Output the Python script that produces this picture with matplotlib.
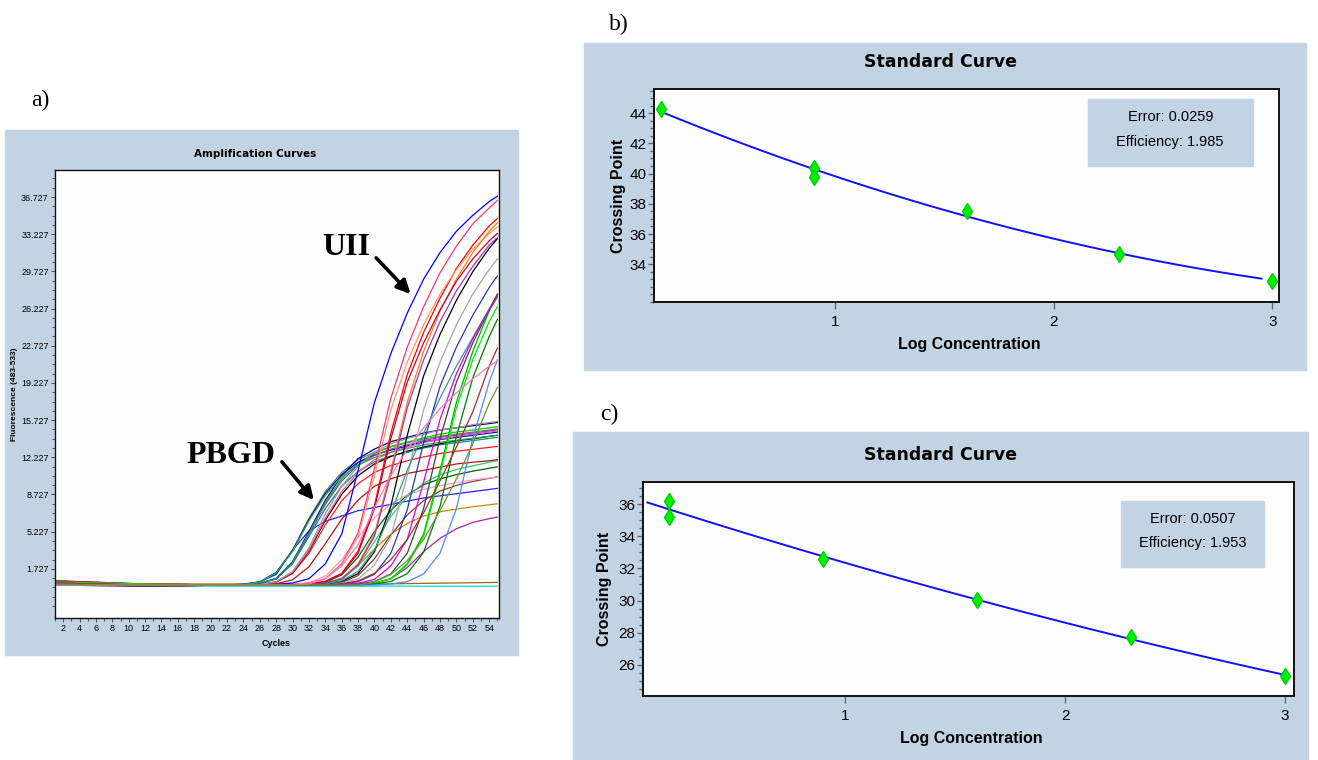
import matplotlib
matplotlib.use('Agg')

import matplotlib.pyplot as plt
from matplotlib.patches import Rectangle
import numpy as np

plt.rcParams['font.family'] = ['Liberation Sans', 'DejaVu Sans']

# ---------------- a) amplification curves ----------------
# cycles at which the fluorescence was read off the picture
CYCLES = [1, 12, 22, 24, 26, 28, 30, 32, 34, 36, 38, 40, 42, 44, 46, 48, 50, 52, 54, 55]

UII_COLORS = ['#0000ff', '#ff3377', '#ff0000', '#ff9966', '#ff8000', '#cc0033', '#9933cc',
              '#a8a8a8', '#000000', '#3333aa', '#339999', '#00b000', '#00ee00', '#007a00',
              '#404040', '#dd00dd', '#5588ff', '#993333', '#ff77bb', '#669933']
UII_VALUES = [
    [0.4, 0.2, 0.2, 0.2, 0.2, 0.25, 0.4, 0.8, 2.2, 5.0, 11.0, 17.4, 22.0, 25.8, 29.0, 31.5, 33.5, 35.0, 36.3, 36.8],
    [0.3, 0.3, 0.2, 0.2, 0.2, 0.2, 0.25, 0.4, 0.8, 2.2, 5.1, 11.2, 17.8, 22.6, 26.4, 29.6, 32.1, 34.2, 35.7, 36.4],
    [0.6, 0.3, 0.2, 0.2, 0.2, 0.2, 0.2, 0.3, 0.55, 1.3, 3.4, 7.7, 14.5, 20.0, 24.0, 27.2, 30.0, 32.2, 34.0, 34.7],
    [0.2, 0.1, 0.2, 0.2, 0.2, 0.2, 0.25, 0.39, 0.77, 2.1, 4.76, 10.5, 16.7, 21.2, 24.7, 27.6, 29.9, 31.8, 33.3, 33.9],
    [0.5, 0.2, 0.2, 0.2, 0.2, 0.2, 0.2, 0.25, 0.4, 0.8, 2.2, 5.0, 11.0, 17.4, 22.2, 26.0, 29.0, 31.5, 33.5, 34.3],
    [0.3, 0.2, 0.2, 0.2, 0.2, 0.2, 0.2, 0.3, 0.53, 1.25, 3.2, 7.4, 14.0, 19.3, 23.0, 26.1, 28.8, 30.9, 32.6, 33.3],
    [0.4, 0.1, 0.2, 0.2, 0.2, 0.2, 0.2, 0.25, 0.39, 0.78, 2.1, 4.8, 10.6, 16.9, 21.4, 25.0, 27.9, 30.2, 32.2, 32.9],
    [0.3, 0.2, 0.2, 0.2, 0.2, 0.2, 0.2, 0.2, 0.25, 0.39, 0.77, 2.1, 4.76, 10.5, 16.7, 21.2, 24.7, 27.6, 29.9, 30.9],
    [0.5, 0.2, 0.2, 0.2, 0.2, 0.2, 0.2, 0.2, 0.3, 0.54, 1.28, 3.34, 7.64, 14.3, 19.9, 23.8, 27.0, 29.7, 31.9, 32.8],
    [0.2, 0.1, 0.2, 0.2, 0.2, 0.2, 0.2, 0.2, 0.2, 0.3, 0.53, 1.22, 3.2, 7.3, 13.6, 18.9, 22.6, 25.6, 28.2, 29.3],
    [0.4, 0.2, 0.2, 0.2, 0.2, 0.2, 0.2, 0.2, 0.3, 0.6, 1.5, 3.5, 7.0, 11.0, 14.5, 17.8, 20.8, 23.5, 26.2, 27.4],
    [0.3, 0.2, 0.2, 0.2, 0.2, 0.2, 0.2, 0.2, 0.2, 0.2, 0.25, 0.4, 0.8, 2.2, 5.0, 11.0, 17.4, 22.2, 26.0, 27.5],
    [0.5, 0.3, 0.2, 0.2, 0.2, 0.2, 0.2, 0.2, 0.2, 0.2, 0.25, 0.39, 0.78, 2.1, 4.8, 10.6, 16.9, 21.4, 25.0, 26.4],
    [0.2, 0.2, 0.2, 0.2, 0.2, 0.2, 0.2, 0.2, 0.2, 0.2, 0.2, 0.3, 0.54, 1.27, 3.3, 7.6, 14.2, 19.7, 23.6, 25.2],
    [0.3, 0.1, 0.2, 0.2, 0.2, 0.2, 0.2, 0.2, 0.2, 0.2, 0.3, 0.53, 1.25, 3.2, 7.4, 14.0, 19.3, 23.0, 26.1, 27.6],
    [0.4, 0.2, 0.2, 0.2, 0.2, 0.2, 0.2, 0.2, 0.2, 0.25, 0.38, 0.74, 2.0, 4.5, 9.9, 15.8, 20.1, 23.4, 26.1, 27.3],
    [0.3, 0.2, 0.2, 0.2, 0.2, 0.2, 0.2, 0.2, 0.2, 0.2, 0.2, 0.2, 0.3, 0.53, 1.25, 3.2, 7.4, 14.0, 19.3, 21.4],
    [0.4, 0.2, 0.2, 0.2, 0.2, 0.2, 0.2, 0.2, 0.2, 0.3, 0.6, 1.3, 2.6, 4.5, 7.0, 10.0, 13.2, 16.5, 20.8, 22.5],
    [0.2, 0.2, 0.2, 0.2, 0.2, 0.2, 0.2, 0.3, 0.8, 2.0, 4.0, 7.5, 10.5, 13.0, 15.0, 16.8, 18.3, 19.6, 20.8, 21.3],
    [0.3, 0.2, 0.2, 0.2, 0.2, 0.2, 0.2, 0.2, 0.2, 0.2, 0.2, 0.5, 1.2, 2.5, 4.5, 7.2, 10.2, 13.5, 17.3, 18.8],
]

PBGD_COLORS = ['#6b7b5b', '#000080', '#00cc00', '#0000ee', '#8844bb', '#009090',
               '#ff2020', '#000000', '#ff4fa0', '#bb1111', '#999999', '#22aa44']
PBGD_VALUES = [
    [0.5, 0.2, 0.2, 0.25, 0.5, 1.4, 3.5, 6.5, 9.0, 10.8, 12.0, 12.7, 13.2, 13.6, 13.95, 14.2, 14.4, 14.6, 14.8, 14.9],
    [0.3, 0.2, 0.2, 0.2, 0.36, 0.83, 2.4, 5.24, 8.18, 10.5, 12.1, 13.0, 13.7, 14.1, 14.5, 14.8, 15.0, 15.2, 15.4, 15.5],
    [0.4, 0.1, 0.2, 0.2, 0.35, 0.8, 2.35, 5.1, 7.95, 10.2, 11.7, 12.6, 13.25, 13.65, 14.05, 14.4, 14.6, 14.8, 15.0, 15.1],
    [0.6, 0.3, 0.2, 0.25, 0.49, 1.37, 3.43, 6.37, 8.82, 10.6, 11.76, 12.45, 12.9, 13.3, 13.7, 13.9, 14.1, 14.3, 14.5, 14.6],
    [0.2, 0.2, 0.2, 0.2, 0.35, 0.8, 2.3, 5.0, 7.8, 10.0, 11.5, 12.4, 13.0, 13.4, 13.8, 14.1, 14.3, 14.5, 14.7, 14.8],
    [0.3, 0.1, 0.2, 0.2, 0.34, 0.77, 2.2, 4.76, 7.4, 9.5, 10.9, 11.8, 12.36, 12.7, 13.1, 13.4, 13.6, 13.8, 14.0, 14.1],
    [0.5, 0.3, 0.2, 0.2, 0.25, 0.47, 1.28, 3.17, 5.87, 8.12, 9.74, 10.8, 11.45, 11.9, 12.26, 12.58, 12.8, 12.98, 13.16, 13.25],
    [0.3, 0.2, 0.2, 0.2, 0.25, 0.49, 1.36, 3.4, 6.3, 8.74, 10.5, 11.6, 12.3, 12.8, 13.2, 13.5, 13.78, 13.97, 14.2, 14.3],
    [0.4, 0.2, 0.2, 0.2, 0.25, 0.5, 1.4, 3.5, 6.5, 9.0, 10.8, 12.0, 12.7, 13.2, 13.6, 13.95, 14.2, 14.4, 14.6, 14.7],
    [0.2, 0.1, 0.2, 0.2, 0.2, 0.32, 0.69, 1.92, 4.1, 6.4, 8.2, 9.5, 10.2, 10.7, 11.0, 11.3, 11.6, 11.76, 11.9, 12.0],
    [0.5, 0.2, 0.2, 0.2, 0.25, 0.52, 1.47, 3.7, 6.9, 9.5, 11.4, 12.7, 13.5, 14.0, 14.4, 14.8, 15.0, 15.3, 15.5, 15.6],
    [0.3, 0.2, 0.2, 0.25, 0.49, 1.35, 3.37, 6.25, 8.65, 10.4, 11.5, 12.2, 12.68, 13.06, 13.4, 13.64, 13.83, 14.02, 14.2, 14.3],
]

OTHER_COLORS = ['#2222ff', '#cc8800', '#aa22aa', '#006600', '#8b3a3a', '#ff99cc', '#33cc66',
                '#b06000', '#00dddd']
OTHER_VALUES = [
    [0.4, 0.2, 0.2, 0.3, 0.5, 1.2, 3.5, 5.3, 6.2, 6.7, 7.2, 7.5, 7.8, 8.1, 8.4, 8.6, 8.8, 9.0, 9.2, 9.3],
    [0.3, 0.2, 0.2, 0.2, 0.2, 0.2, 0.2, 0.23, 0.37, 0.86, 2.0, 3.6, 5.0, 6.0, 6.7, 7.1, 7.35, 7.57, 7.76, 7.85],
    [0.3, 0.1, 0.2, 0.2, 0.2, 0.2, 0.2, 0.2, 0.2, 0.2, 0.23, 0.35, 0.8, 1.85, 3.35, 4.6, 5.5, 6.1, 6.45, 6.6],
    [0.4, 0.2, 0.2, 0.2, 0.2, 0.2, 0.2, 0.24, 0.44, 1.16, 2.84, 5.24, 7.24, 8.68, 9.64, 10.2, 10.6, 10.92, 11.2, 11.32],
    [0.2, 0.2, 0.2, 0.2, 0.2, 0.2, 0.2, 0.2, 0.24, 0.43, 1.1, 2.68, 4.93, 6.8, 8.15, 9.05, 9.58, 9.95, 10.25, 10.4],
    [0.5, 0.3, 0.2, 0.2, 0.2, 0.2, 0.24, 0.42, 1.06, 2.58, 4.74, 6.54, 7.83, 8.7, 9.2, 9.56, 9.85, 10.1, 10.28, 10.35],
    [0.3, 0.2, 0.2, 0.2, 0.2, 0.2, 0.2, 0.2, 0.33, 0.71, 1.99, 4.28, 6.66, 8.53, 9.8, 10.57, 11.08, 11.42, 11.76, 11.89],
    [0.4, 0.3, 0.3, 0.3, 0.3, 0.3, 0.3, 0.3, 0.3, 0.3, 0.3, 0.3, 0.32, 0.34, 0.36, 0.38, 0.4, 0.42, 0.44, 0.45],
    [0.3, 0.1, 0.1, 0.1, 0.1, 0.1, 0.1, 0.1, 0.1, 0.1, 0.1, 0.1, 0.1, 0.1, 0.1, 0.1, 0.1, 0.1, 0.1, 0.1],
]

AMP_YTICKS = [1.727, 5.227, 8.727, 12.227, 15.727, 19.227, 22.727, 26.227, 29.727, 33.227, 36.727]
AMP_XTICKS = list(range(2, 55, 2))

# ---------------- b) and c) standard curves ----------------
LOG_CONC_B = [0.2, 0.9, 0.9, 1.6, 2.3, 3.0]
CP_B = [44.26, 40.4, 39.8, 37.5, 34.7, 32.9]
YTICKS_B = [34, 36, 38, 40, 42, 44]
ERROR_B, EFFICIENCY_B = '0.0259', '1.985'

LOG_CONC_C = [0.2, 0.2, 0.9, 1.6, 2.3, 3.0]
CP_C = [36.2, 35.2, 32.6, 30.05, 27.75, 25.3]
YTICKS_C = [26, 28, 30, 32, 34, 36]
ERROR_C, EFFICIENCY_C = '0.0507', '1.953'

PANEL_BG = '#c2d4e4'
W, H = 1318, 760

fig = plt.figure(figsize=(13.18, 7.6), dpi=100, facecolor='white')


def fx(x):
    return x / W


def fy(y):
    return 1 - y / H


def panel_bg(x0, y0, x1, y1):
    fig.add_artist(Rectangle((fx(x0), fy(y1)), fx(x1 - x0), (y1 - y0) / H,
                             transform=fig.transFigure, color=PANEL_BG, zorder=-5))


def add_ax(x0, y0, x1, y1):
    ax = fig.add_axes([fx(x0), fy(y1), fx(x1 - x0), (y1 - y0) / H])
    ax.set_facecolor('#fdfdfd')
    for sp in ax.spines.values():
        sp.set_color('#111111')
    return ax


# panel a
panel_bg(5, 130, 518, 655)
ax = add_ax(55, 170, 499, 618)
for vals, col in zip(OTHER_VALUES, OTHER_COLORS):
    ax.plot(CYCLES, vals, color=col, lw=0.9)
for vals, col in zip(PBGD_VALUES, PBGD_COLORS):
    ax.plot(CYCLES, vals, color=col, lw=0.9)
for vals, col in zip(UII_VALUES, UII_COLORS):
    ax.plot(CYCLES, vals, color=col, lw=0.9)
ax.set_xlim(1, 55.2)
ax.set_ylim(-2.9, 39.27)
ax.set_yticks(AMP_YTICKS, labels=[f'{v:.3f}' for v in AMP_YTICKS])
ax.set_yticks(np.arange(AMP_YTICKS[0] - 3.5, 39.2, 0.875), minor=True)
ax.set_xticks(AMP_XTICKS)
ax.set_xticks(range(1, 56), minor=True)
ax.tick_params(which='both', labelsize=6.5, color='#555555', width=0.8, pad=1.5)
ax.tick_params(which='major', length=3)
ax.tick_params(which='minor', length=2)
for sp in ax.spines.values():
    sp.set_linewidth(1.0)

fig.text(fx(255), fy(154), 'Amplification Curves', ha='center', va='center',
         fontsize=7.5, fontweight='heavy', family='DejaVu Sans')
fig.text(fx(276), fy(643), 'Cycles', ha='center', va='center', fontsize=6.5, fontweight='bold')
fig.text(fx(15), fy(394), 'Fluorescence (483-533)', ha='center', va='center',
         rotation=90, fontsize=6, fontweight='bold')

serif = ['Liberation Serif', 'DejaVu Serif']
ax.text(36.6, 32.0, 'UII', ha='center', va='center', fontsize=23, fontweight='bold', family=serif)
ax.text(22.5, 12.4, 'PBGD', ha='center', va='center', fontsize=23, fontweight='bold', family=serif)
arrow = dict(arrowstyle='-|>', lw=2.6, color='black', mutation_scale=20, shrinkA=0, shrinkB=0)
ax.annotate('', xy=(44.4, 27.6), xytext=(40.2, 31.0), arrowprops=arrow)
ax.annotate('', xy=(32.6, 8.2), xytext=(28.7, 11.8), arrowprops=arrow)

fig.text(fx(40), fy(100), 'a)', ha='center', va='center', fontsize=17, family=serif)


def standard_panel(box, xs, ys, yticks, ylim, xlim, fit_range, err, eff, stat_box, title_y,
                   xlabel_y, ylabel_x, label, label_xy):
    x0, y0, x1, y1 = box
    ax = add_ax(x0, y0, x1, y1)
    coef = np.polyfit(xs, ys, 2)
    xx = np.linspace(fit_range[0], fit_range[1], 80)
    ax.plot(xx, np.polyval(coef, xx), color='#1010ff', lw=1.4, zorder=2)
    ax.plot(xs, ys, 'd', color='#00ee00', mec='#00d000', ms=8.5, zorder=3)
    ax.set_xlim(*xlim)
    ax.set_ylim(*ylim)
    ax.set_yticks(yticks)
    ax.set_yticks(np.arange(np.ceil(ylim[0] * 2) / 2, ylim[1], 0.5), minor=True)
    ax.set_xticks([1, 2, 3])
    ax.tick_params(which='both', labelsize=11, color='#666666', width=1.0)
    ax.tick_params(axis='y', which='major', length=4, pad=1.5)
    ax.tick_params(axis='y', which='minor', length=3)
    ax.tick_params(axis='x', which='major', length=5, pad=4)
    for sp in ax.spines.values():
        sp.set_linewidth(1.4)

    bx0, by0, bx1, by1 = stat_box
    ax.add_patch(Rectangle((bx0, by0), bx1 - bx0, by1 - by0, transform=ax.transAxes,
                           color=PANEL_BG, zorder=4))
    cx = (bx0 + bx1) / 2
    ax.text(cx, by1 - (by1 - by0) * 0.27, f'Error: {err}', transform=ax.transAxes,
            ha='center', va='center', fontsize=10.5, zorder=5)
    ax.text(cx, by1 - (by1 - by0) * 0.64, f'Efficiency: {eff}', transform=ax.transAxes,
            ha='center', va='center', fontsize=10.5, zorder=5)

    fig.text(fx(940), fy(title_y), 'Standard Curve', ha='center', va='center',
             fontsize=12.5, fontweight='heavy', family='DejaVu Sans')
    fig.text(fx((x0 + x1) / 2 + 3), fy(xlabel_y), 'Log Concentration', ha='center', va='center',
             fontsize=11.5, fontweight='bold')
    fig.text(fx(ylabel_x), fy((y0 + y1) / 2), 'Crossing Point', ha='center', va='center',
             rotation=90, fontsize=11.5, fontweight='bold')
    fig.text(fx(label_xy[0]), fy(label_xy[1]), label, ha='center', va='center',
             fontsize=17, family=serif)
    return ax


panel_bg(584, 43, 1306, 370)
standard_panel((654, 89, 1279, 302), LOG_CONC_B, CP_B, YTICKS_B, (31.5, 45.6), (0.17, 3.03),
               (0.2, 2.95), ERROR_B, EFFICIENCY_B, (0.694, 0.638, 0.958, 0.953),
               62, 345, 618, 'b)', (619, 24))

panel_bg(573, 432, 1308, 762)
standard_panel((643, 482, 1294, 696), LOG_CONC_C, CP_C, YTICKS_C, (24.07, 37.37), (0.08, 3.04),
               (0.1, 3.0), ERROR_C, EFFICIENCY_C, (0.734, 0.603, 0.954, 0.911),
               455, 739, 605, 'c)', (609, 414))

fig.savefig('out.png', dpi=100, facecolor='white')
plt.close(fig)
